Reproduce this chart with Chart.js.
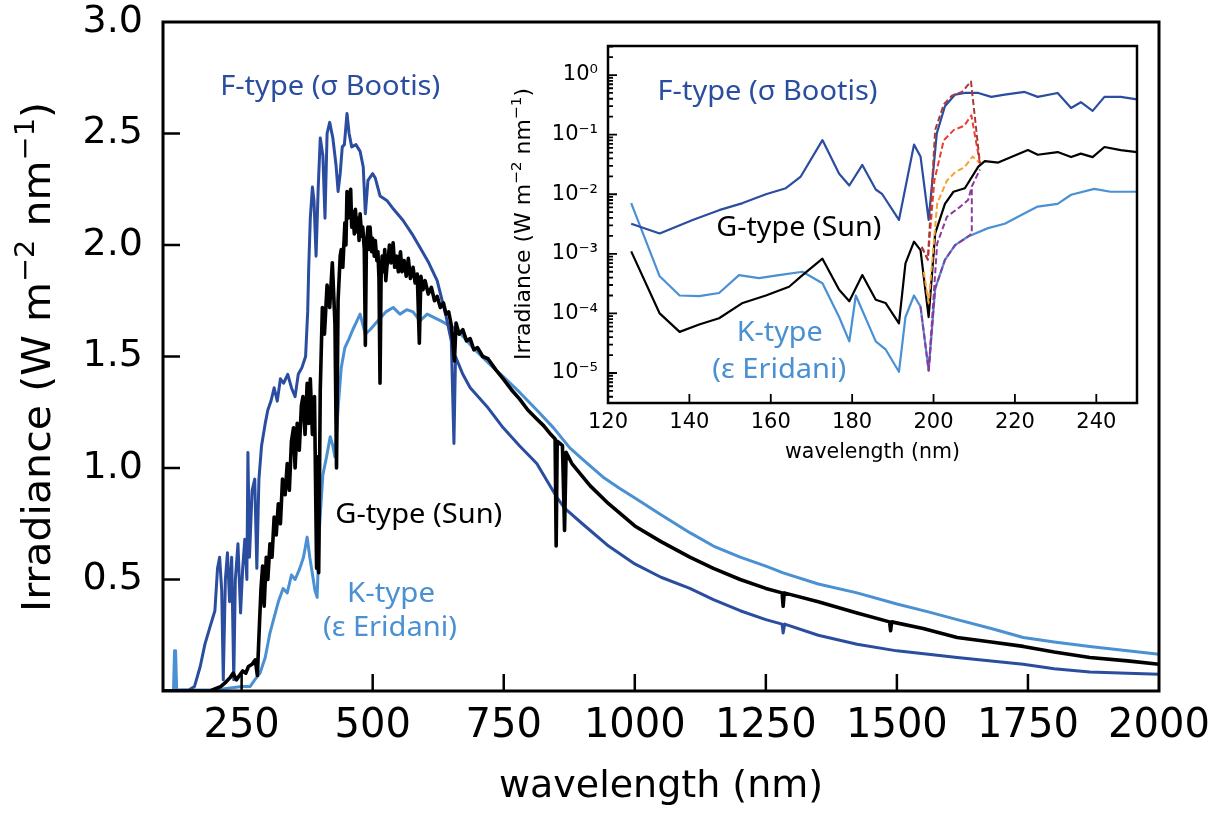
<!DOCTYPE html>
<html>
<head>
<meta charset="utf-8">
<title>Stellar irradiance spectra</title>
<script src="https://cdn.jsdelivr.net/npm/chart.js@4.4.1/dist/chart.umd.min.js"></script>
<style>
  html, body { margin: 0; padding: 0; background: #fff; }
  #wrap { position: relative; width: 1222px; height: 815px; }
  #mainChart { position: absolute; left: 0; top: 0; }
  #insetChart { position: absolute; left: 480px; top: 30px; }
</style>
</head>
<body>
<div id="wrap">
  <canvas id="mainChart" width="1222" height="815"></canvas>
  <canvas id="insetChart" width="700" height="460"></canvas>
</div>
<script>
// ---- main panel: irradiance (W m-2 nm-1) vs wavelength (nm) ----
const fWl = [100, 150, 160, 171, 180, 190, 199, 204, 208, 212, 215, 219, 223, 227, 231, 235, 238, 243, 248, 252, 256, 260, 262, 265, 270, 275, 279, 283, 288, 295, 300, 306, 312, 318, 324, 330, 338, 345, 352, 358, 365, 372, 376, 378, 381, 385, 388, 392, 396, 400, 405, 409, 413, 418, 424, 430, 434, 438, 442, 446, 451, 455, 460, 468, 476, 482, 486, 491, 500, 505, 514, 527, 540, 558, 575, 590, 607, 623, 640, 650, 655, 658, 672, 686, 720, 749, 780, 813, 851, 866, 900, 950, 1000, 1050, 1105, 1150, 1201, 1250, 1281, 1283, 1286, 1350, 1424, 1500, 1560, 1615, 1680, 1741, 1800, 1868, 1940, 2000];
const fIrr = [0, 0.005, 0.02, 0.11, 0.21, 0.29, 0.36, 0.55, 0.6, 0.45, 0.05, 0.5, 0.62, 0.4, 0.6, 0.05, 0.5, 0.66, 0.35, 0.55, 0.68, 0.5, 1.07, 0.6, 0.9, 0.95, 0.55, 0.95, 1.1, 1.2, 1.26, 1.3, 1.36, 1.3, 1.4, 1.38, 1.42, 1.36, 1.32, 1.42, 1.45, 1.5, 1.7, 1.9, 2.12, 2.26, 2.2, 1.95, 2.25, 2.48, 2.4, 2.12, 2.5, 2.55, 2.48, 2.36, 2.24, 2.32, 2.44, 2.45, 2.59, 2.5, 2.44, 2.45, 2.42, 2.35, 2.14, 2.29, 2.32, 2.3, 2.22, 2.2, 2.16, 2.11, 2.05, 1.99, 1.92, 1.84, 1.68, 1.57, 1.11, 1.5, 1.42, 1.36, 1.27, 1.18, 1.1, 1.02, 0.87, 0.82, 0.75, 0.65, 0.57, 0.51, 0.46, 0.41, 0.36, 0.32, 0.3, 0.26, 0.3, 0.25, 0.21, 0.18, 0.165, 0.15, 0.135, 0.12, 0.1, 0.085, 0.08, 0.075];

const gWl = [100, 190, 200, 210, 220, 228, 234, 240, 246, 252, 258, 263, 270, 276, 280, 284, 287, 290, 293, 297, 300, 304, 308, 312, 316, 320, 324, 328, 333, 337, 341, 345, 349, 352, 356, 360, 364, 367, 371, 375, 378, 381, 385, 389, 393, 395, 397, 400, 404, 408, 413, 418, 423, 428, 431, 434, 438, 440, 443, 447, 449, 451, 453, 455, 458, 460, 462, 465, 467, 470, 472, 474, 476, 479, 481, 484, 486, 488, 491, 493, 495, 498, 500, 503, 505, 508, 510, 512, 514, 516, 518, 521, 523, 525, 527, 530, 532, 535, 539, 542, 546, 549, 553, 556, 560, 564, 568, 572, 577, 581, 585, 589, 592, 596, 600, 606, 612, 618, 623, 629, 635, 640, 645, 650, 656, 659, 665, 672, 679, 686, 693, 700, 710, 720, 735, 749, 765, 780, 796, 813, 826, 840, 848, 850, 852, 862, 866, 869, 880, 915, 950, 1000, 1050, 1105, 1150, 1201, 1250, 1281, 1283, 1285, 1350, 1424, 1486, 1488, 1490, 1550, 1615, 1680, 1741, 1800, 1868, 1940, 2000];
const gIrr = [0, 0, 0.01, 0.02, 0.04, 0.06, 0.08, 0.05, 0.07, 0.09, 0.08, 0.11, 0.12, 0.14, 0.07, 0.3, 0.46, 0.56, 0.38, 0.6, 0.5, 0.66, 0.6, 0.78, 0.7, 0.84, 0.75, 0.95, 0.88, 1.02, 0.9, 1.12, 1.18, 1.0, 1.2, 1.08, 1.28, 1.32, 1.15, 1.38, 1.2, 1.4, 1.15, 1.32, 0.55, 1.05, 0.53, 1.35, 1.72, 1.6, 1.82, 1.72, 1.92, 1.65, 1.0, 1.75, 1.95, 1.98, 1.9, 2.1, 2.0, 2.24, 2.12, 2.2, 2.25, 2.08, 2.15, 2.05, 2.16, 2.06, 2.12, 2.02, 2.14, 2.04, 2.08, 1.98, 1.55, 2.0, 2.08, 1.98, 2.08, 1.97, 2.03, 1.95, 2.02, 1.93, 1.97, 1.85, 1.38, 1.85, 1.95, 1.88, 1.98, 1.84, 1.9, 1.95, 2.0, 1.92, 2.01, 1.9, 1.95, 1.88, 1.97, 1.88, 1.93, 1.86, 1.94, 1.85, 1.9, 1.83, 1.87, 1.56, 1.86, 1.8, 1.84, 1.78, 1.81, 1.75, 1.77, 1.72, 1.74, 1.69, 1.7, 1.64, 1.48, 1.65, 1.6, 1.62, 1.57, 1.58, 1.53, 1.54, 1.5, 1.49, 1.44, 1.4, 1.35, 1.31, 1.26, 1.22, 1.19, 1.15, 1.13, 0.65, 1.12, 1.1, 0.72, 1.07, 1.02, 0.92, 0.84, 0.74, 0.67, 0.6, 0.55, 0.5, 0.46, 0.44, 0.38, 0.44, 0.4, 0.35, 0.31, 0.27, 0.31, 0.28, 0.24, 0.22, 0.2, 0.175, 0.15, 0.135, 0.12];

const kWl = [100, 120, 122, 124, 126, 200, 250, 266, 275, 285, 295, 304, 312, 320, 329, 337, 345, 352, 361, 368, 375, 380, 386, 390, 394, 399, 405, 412, 419, 424, 428, 435, 440, 447, 455, 462, 470, 476, 486, 495, 510, 525, 539, 552, 565, 577, 590, 604, 630, 661, 691, 730, 749, 780, 813, 845, 876, 900, 939, 970, 1004, 1050, 1105, 1150, 1201, 1250, 1283, 1350, 1424, 1500, 1560, 1615, 1680, 1741, 1800, 1868, 1940, 2000];
const kIrr = [0, 0, 0.18, 0.18, 0.005, 0.005, 0.02, 0.02, 0.05, 0.08, 0.15, 0.26, 0.33, 0.4, 0.46, 0.44, 0.52, 0.5, 0.55, 0.6, 0.69, 0.6, 0.51, 0.45, 0.42, 0.75, 0.97, 1.05, 1.14, 1.1, 1.05, 1.3, 1.45, 1.54, 1.58, 1.62, 1.66, 1.69, 1.6, 1.62, 1.66, 1.7, 1.72, 1.69, 1.71, 1.7, 1.66, 1.69, 1.66, 1.62, 1.54, 1.45, 1.41, 1.34, 1.26, 1.18, 1.09, 1.04, 0.96, 0.91, 0.86, 0.79, 0.71, 0.65, 0.6, 0.56, 0.53, 0.48, 0.44, 0.39, 0.355, 0.32, 0.28, 0.24, 0.22, 0.2, 0.18, 0.165];

const mainXTicks = [250, 500, 750, 1000, 1250, 1500, 1750, 2000];
const mainYTicks = [0.5, 1.0, 1.5, 2.0, 2.5, 3.0];

// ---- inset: far-UV detail, log scale ----
const fUvWl = [125.7, 132.7, 140.8, 147.3, 153.1, 158.8, 163.7, 167.3, 172.7, 176.8, 179.3, 182.5, 185.8, 187.4, 191.5, 195.2, 196.8, 198.8, 200.8, 202.8, 205.3, 207.7, 211, 214.2, 217.5, 222.4, 225.6, 230.5, 233.8, 236.2, 239.1, 242, 246, 250];
const fUvIrr = [3.2e-3, 2.2e-3, 3.7e-3, 5.4e-3, 7.1e-3, 1.0e-2, 1.26e-2, 1.95e-2, 8.1e-2, 2.2e-2, 1.4e-2, 3.1e-2, 1.2e-2, 1.0e-2, 3.7e-3, 6.8e-2, 4.3e-2, 3.7e-3, 0.105, 0.30, 0.47, 0.50, 0.50, 0.43, 0.47, 0.52, 0.43, 0.50, 0.28, 0.35, 0.25, 0.43, 0.43, 0.39];

const gUvWl = [125.7, 132.7, 137.6, 142.4, 147.3, 153.1, 158.8, 164.5, 167.8, 172.7, 176.8, 179.3, 182.5, 185.8, 188.2, 191.5, 193.1, 195.2, 196.8, 198.8, 200.4, 202.8, 204.9, 207.7, 211, 212.6, 215.9, 219.1, 223.2, 225.6, 230.5, 233.8, 236.2, 239.1, 242, 246, 250];
const gUvIrr = [1.1e-3, 1.0e-4, 4.9e-5, 6.5e-5, 8.3e-5, 1.5e-4, 2.0e-4, 2.8e-4, 4.4e-4, 8.3e-4, 2.5e-4, 1.6e-4, 4.4e-4, 1.7e-4, 1.5e-4, 6.8e-5, 6.9e-4, 1.6e-3, 1.15e-3, 8.7e-5, 2.2e-3, 6.9e-3, 1.1e-2, 1.26e-2, 2.9e-2, 3.6e-2, 3.4e-2, 4.2e-2, 5.5e-2, 4.6e-2, 5.1e-2, 4.2e-2, 4.8e-2, 4.2e-2, 6.2e-2, 5.5e-2, 5.1e-2];

const kUvWl = [125.7, 132.7, 137.6, 142.4, 147.3, 152.2, 157.1, 162, 167.8, 172.7, 176.8, 179.3, 180.9, 185.8, 188.2, 191.5, 193.1, 195.2, 196.8, 198.8, 200.4, 202.8, 205.3, 208.5, 213.4, 217.5, 222.4, 225.6, 230.5, 233.8, 239.5, 243.5, 250];
const kUvIrr = [7.1e-3, 4.2e-4, 2.0e-4, 1.95e-4, 2.2e-4, 4.4e-4, 3.9e-4, 4.4e-4, 5.0e-4, 3.2e-4, 8.7e-5, 3.4e-5, 2.0e-4, 3.4e-5, 2.5e-5, 1.05e-5, 8.7e-5, 2.0e-4, 1.3e-4, 1.1e-5, 2.6e-4, 7.9e-4, 1.4e-3, 1.95e-3, 2.7e-3, 3.2e-3, 4.8e-3, 6.2e-3, 6.9e-3, 9.8e-3, 1.23e-2, 1.1e-2, 1.1e-2];

// dashed alternatives across the 198-212 nm gap
const darkRedWl = [197.1, 198.6, 200.4, 202.5, 204.5, 207.0, 209.2, 211.4];
const darkRedIrr = [1.3e-3, 8e-4, 1.2e-1, 3.2e-1, 4.5e-1, 5.2e-1, 7.8e-1, 3.3e-2];
const redWl = [197.1, 198.6, 200.2, 202.5, 205.0, 207.5, 209.3, 211.4];
const redIrr = [1.3e-3, 8e-4, 1.7e-2, 8e-2, 1.2e-1, 1.4e-1, 2.1e-1, 3.3e-2];
const orangeWl = [197.6, 198.8, 200.9, 203.3, 205.5, 207.5, 209.6, 211.4];
const orangeIrr = [5e-4, 1.5e-4, 7e-3, 1.7e-2, 2.4e-2, 2.8e-2, 4.3e-2, 3.3e-2];
const purpleWl = [196.8, 198.8, 200.9, 203.3, 206.6, 208.5, 209.4, 211.4];
const purpleIrr = [1.3e-4, 1.1e-5, 1.5e-3, 4.2e-3, 6.2e-3, 8e-3, 1.35e-2, 2.6e-2];
const purple2Wl = [198.8, 200.4, 202.8, 205.3, 208.5, 209.4, 209.4];
const purple2Irr = [1.1e-5, 2.6e-4, 7.9e-4, 1.4e-3, 1.95e-3, 2.2e-3, 1.35e-2];

const insetXTicks = [120, 140, 160, 180, 200, 220, 240];
const insetYTicks = [1e-5, 1e-4, 1e-3, 1e-2, 1e-1, 1];

const F_COL = '#2a4d9f';
const K_COL = '#4a90d2';

const pts = (xs, ys) => xs.map((x, i) => ({ x: x, y: ys[i] }));

// rotated axis title with superscripts
function drawRich(ctx, segs, bx, cy, size, family, len) {
  ctx.save();
  ctx.translate(bx, cy);
  ctx.rotate(-Math.PI / 2);
  ctx.fillStyle = '#000';
  ctx.textBaseline = 'alphabetic';
  ctx.textAlign = 'left';
  let total = 0;
  segs.forEach(s => {
    ctx.font = (s.sup ? size * 0.7 : size) + 'px ' + family;
    s.w = ctx.measureText(s.t).width;
    total += s.w;
  });
  ctx.scale(len / total, 1);
  let x = -total / 2;
  segs.forEach(s => {
    ctx.font = (s.sup ? size * 0.7 : size) + 'px ' + family;
    ctx.fillText(s.t, x, s.sup ? -size * 0.42 : 0);
    x += s.w;
  });
  ctx.restore();
}

const titleSegs = () => [
  { t: 'Irradiance (W m' }, { t: '\u22122', sup: true },
  { t: ' nm' }, { t: '\u22121', sup: true }, { t: ')' }
];

// frame + inward ticks, matplotlib style
function makeFrame(cfg) {
  return {
    id: 'frameTicks',
    afterDatasetsDraw(chart) {
      const { ctx, chartArea: a } = chart;
      const xs = chart.scales.x, ys = chart.scales.y;
      ctx.save();
      ctx.strokeStyle = '#000';
      ctx.lineWidth = cfg.tickWidth;
      ctx.beginPath();
      cfg.xTicks.forEach(v => {
        const px = xs.getPixelForValue(v);
        ctx.moveTo(px, a.bottom); ctx.lineTo(px, a.bottom - cfg.len);
      });
      cfg.yTicks.forEach(v => {
        const py = ys.getPixelForValue(v);
        ctx.moveTo(a.left, py); ctx.lineTo(a.left + cfg.len, py);
      });
      (cfg.yMinor || []).forEach(v => {
        const py = ys.getPixelForValue(v);
        if (py < a.top || py > a.bottom) return;
        ctx.moveTo(a.left, py); ctx.lineTo(a.left + cfg.minorLen, py);
      });
      ctx.stroke();
      ctx.lineWidth = cfg.frameWidth;
      ctx.strokeRect(a.left, a.top, a.right - a.left, a.bottom - a.top);
      ctx.restore();
    }
  };
}

// annotation text placed in data coordinates
function makeText(items, title) {
  return {
    id: 'textLabels',
    afterDraw(chart) {
      const ctx = chart.ctx, xs = chart.scales.x, ys = chart.scales.y;
      items.forEach(it => {
        ctx.save();
        ctx.font = it.size + 'px "Noto Sans"';
        const w = ctx.measureText(it.text).width;
        ctx.translate(xs.getPixelForValue(it.x), ys.getPixelForValue(it.y));
        ctx.scale(it.width / w, 1);
        ctx.fillStyle = it.color;
        ctx.textAlign = 'center';
        ctx.textBaseline = 'middle';
        ctx.fillText(it.text, 0, 0);
        ctx.restore();
      });
      drawRich(ctx, titleSegs(), title.bx, title.cy, title.size, title.family, title.len);
    }
  };
}

// keep the plot box exactly where it is asked for
const noPad = s => { s.paddingTop = 0; s.paddingBottom = 0; s.paddingLeft = 0; s.paddingRight = 0; };

const mainLabels = [
  { text: 'F-type (\u03c3 Bootis)', x: 419, y: 2.707, color: F_COL, size: 27, width: 220 },
  { text: 'G-type (Sun)', x: 588, y: 0.788, color: '#000', size: 27, width: 167 },
  { text: 'K-type', x: 535, y: 0.434, color: K_COL, size: 27, width: 88 },
  { text: '(\u03b5 Eridani)', x: 533, y: 0.282, color: K_COL, size: 27, width: 134 }
];
const insetLabels = [
  { text: 'F-type (\u03c3 Bootis)', x: 159.2, y: 0.52, color: F_COL, size: 27, width: 220 },
  { text: 'G-type (Sun)', x: 166.9, y: 2.66e-3, color: '#000', size: 27, width: 165 },
  { text: 'K-type', x: 162.2, y: 4.6e-5, color: K_COL, size: 27, width: 86 },
  { text: '(\u03b5 Eridani)', x: 162.1, y: 1.12e-5, color: K_COL, size: 27, width: 134 }
];

const supMap = { '-': '\u207b', '0': '\u2070', '1': '\u00b9', '2': '\u00b2', '3': '\u00b3', '4': '\u2074', '5': '\u2075' };
const decadeLabel = v => '10' + String(Math.round(Math.log10(v))).split('').map(c => supMap[c]).join('');

const minorLog = [];
for (let e = -6; e <= 0; e++) for (let m = 2; m <= 9; m++) minorLog.push(m * Math.pow(10, e));

// main chart
new Chart(document.getElementById('mainChart'), {
  type: 'line',
  data: {
    datasets: [
      { label: 'G-type (Sun)', data: pts(gWl, gIrr), borderColor: '#000', borderWidth: 3.6, order: 0 },
      { label: 'F-type (\u03c3 Bootis)', data: pts(fWl, fIrr), borderColor: F_COL, borderWidth: 3, order: 1 },
      { label: 'K-type (\u03b5 Eridani)', data: pts(kWl, kIrr), borderColor: K_COL, borderWidth: 3, order: 2 }
    ]
  },
  options: {
    responsive: false,
    animation: false,
    layout: { padding: { left: 0, top: 22, right: 63, bottom: 0 } },
    elements: { point: { radius: 0 }, line: { tension: 0, borderJoinStyle: 'round' } },
    plugins: { legend: { display: false }, tooltip: { enabled: false } },
    scales: {
      x: {
        type: 'linear', min: 100, max: 2000,
        grid: { display: false, drawTicks: false }, border: { display: false },
        afterBuildTicks: s => { s.ticks = mainXTicks.map(v => ({ value: v })); },
        afterFit: s => { s.height = 124; noPad(s); },
        ticks: { font: { family: 'DejaVu Sans', size: 40 }, color: '#000', padding: 12, maxRotation: 0, autoSkip: false, callback: v => String(v) },
        title: { display: true, text: 'wavelength (nm)', color: '#000', font: { family: 'DejaVu Sans', size: 38 }, padding: { top: 0, bottom: 5 } }
      },
      y: {
        min: 0, max: 3,
        grid: { display: false, drawTicks: false }, border: { display: false },
        afterBuildTicks: s => { s.ticks = mainYTicks.map(v => ({ value: v })); },
        afterFit: s => { s.width = 163; noPad(s); },
        ticks: { font: { family: 'DejaVu Sans', size: 38 }, color: '#000', padding: 20, autoSkip: false, callback: v => v.toFixed(1) }
      }
    }
  },
  plugins: [
    makeFrame({ xTicks: mainXTicks.slice(0, -1), yTicks: mainYTicks.slice(0, -1), len: 17, tickWidth: 2.5, frameWidth: 3 }),
    makeText(mainLabels, { bx: 50, cy: 357, size: 39, family: '"DejaVu Sans"', len: 510 })
  ]
});

// inset chart
const dashed = (label, xs, ys, color) => ({ label: label, data: pts(xs, ys), borderColor: color, borderWidth: 2, borderDash: [6, 3], order: 0 });

new Chart(document.getElementById('insetChart'), {
  type: 'line',
  data: {
    datasets: [
      dashed('scenario 1', darkRedWl, darkRedIrr, '#a83a3a'),
      dashed('scenario 2', redWl, redIrr, '#ec3d35'),
      dashed('scenario 3', orangeWl, orangeIrr, '#f5a331'),
      dashed('scenario 4', purpleWl, purpleIrr, '#8c3a9c'),
      dashed('scenario 4b', purple2Wl, purple2Irr, '#8c3a9c'),
      { label: 'G-type (Sun)', data: pts(gUvWl, gUvIrr), borderColor: '#000', borderWidth: 2.2, order: 1 },
      { label: 'F-type (\u03c3 Bootis)', data: pts(fUvWl, fUvIrr), borderColor: F_COL, borderWidth: 2.2, order: 2 },
      { label: 'K-type (\u03b5 Eridani)', data: pts(kUvWl, kUvIrr), borderColor: K_COL, borderWidth: 2.2, order: 3 }
    ]
  },
  options: {
    responsive: false,
    animation: false,
    layout: { padding: { left: 0, top: 16, right: 43, bottom: 0 } },
    elements: { point: { radius: 0 }, line: { tension: 0, borderJoinStyle: 'round' } },
    plugins: { legend: { display: false }, tooltip: { enabled: false } },
    scales: {
      x: {
        type: 'linear', min: 120, max: 250,
        grid: { display: false, drawTicks: false }, border: { display: false },
        afterBuildTicks: s => { s.ticks = insetXTicks.map(v => ({ value: v })); },
        afterFit: s => { s.height = 87; noPad(s); },
        ticks: { font: { family: 'DejaVu Sans', size: 21 }, color: '#000', padding: 7, maxRotation: 0, autoSkip: false, callback: v => String(v) },
        title: { display: true, text: 'wavelength (nm)', color: '#000', font: { family: 'DejaVu Sans', size: 20.5 }, padding: { top: 0, bottom: 25 } }
      },
      y: {
        type: 'logarithmic', min: 3.14e-6, max: 3.07,
        grid: { display: false, drawTicks: false }, border: { display: false },
        afterBuildTicks: s => { s.ticks = insetYTicks.map(v => ({ value: v })); },
        afterFit: s => { s.width = 128; noPad(s); },
        ticks: { font: { family: 'DejaVu Sans', size: 21 }, color: '#000', padding: 10, autoSkip: false, callback: v => decadeLabel(v) }
      }
    }
  },
  plugins: [
    makeFrame({ xTicks: insetXTicks.slice(1), yTicks: insetYTicks, yMinor: minorLog, len: 9, minorLen: 5, tickWidth: 1.8, frameWidth: 2.5 }),
    makeText(insetLabels, { bx: 50, cy: 194, size: 21, family: '"DejaVu Sans"', len: 272 })
  ]
});
</script>
</body>
</html>
